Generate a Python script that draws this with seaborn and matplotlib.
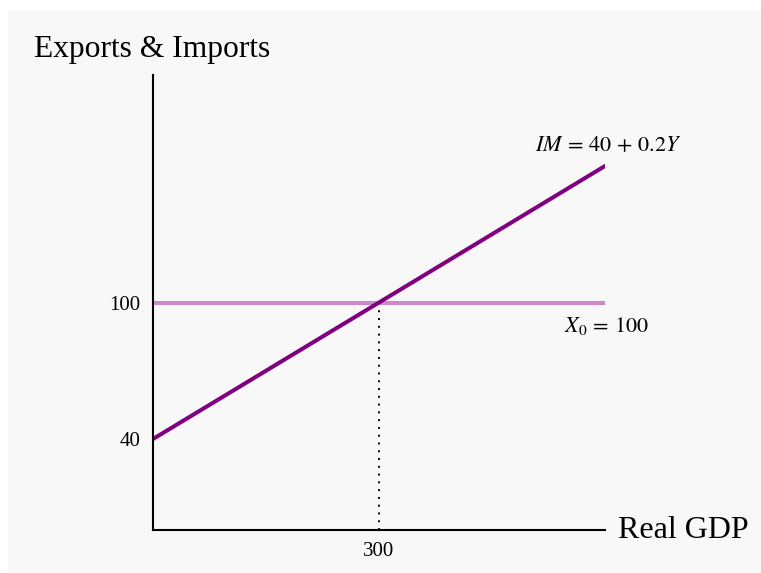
import matplotlib
matplotlib.use("Agg")
import matplotlib.pyplot as plt
import seaborn as sns
import pandas as pd
from matplotlib.patches import Rectangle

sns.set_style("white")
plt.rcParams['font.family'] = ['Liberation Serif', 'DejaVu Serif']
plt.rcParams['mathtext.fontset'] = 'stix'
plt.rcParams['text.color'] = 'black'
plt.rcParams['xtick.color'] = 'black'
plt.rcParams['ytick.color'] = 'black'

# Data
gdp = [0, 600]
imports = [40, 160]          # IM = 40 + 0.2Y
exports = [100, 100]         # X0 = 100
eq_x = 300
eq_y = 100
yticks = [40, 100]
xticks = [300]

W, H = 761, 573
fig = plt.figure(figsize=(W / 100, H / 100), dpi=100, facecolor='white')
fig.patches.append(Rectangle((8 / W, 0), 1, 1 - 11 / H, transform=fig.transFigure,
                             facecolor='#f8f8f8', edgecolor='none', zorder=-10))
ax = fig.add_axes([153 / W, 43 / H, 452 / W, 455 / H])
ax.set_facecolor('none')

df_x = pd.DataFrame({'gdp': gdp, 'val': exports})
df_im = pd.DataFrame({'gdp': gdp, 'val': imports})
sns.lineplot(data=df_x, x='gdp', y='val', ax=ax, color='#cc88cc', linewidth=2.9)
sns.lineplot(data=df_im, x='gdp', y='val', ax=ax, color='#800080', linewidth=2.9)
ax.plot([eq_x, eq_x], [0, eq_y], color='black', linestyle=(0, (1, 3)), linewidth=1.4, zorder=1)

ax.set_xlim(0, 600)
ax.set_ylim(0, 200)
ax.set_xticks(xticks)
ax.set_yticks(yticks)
ax.set_xticklabels([str(v) for v in xticks], fontsize=15)
ax.set_yticklabels([str(v) for v in yticks], fontsize=15)
ax.tick_params(axis='y', length=0, pad=9)
ax.tick_params(axis='x', length=0, pad=9)
ax.set_xlabel('')
ax.set_ylabel('')
for s in ['top', 'right']:
    ax.spines[s].set_visible(False)
for s in ['left', 'bottom']:
    ax.spines[s].set_color('black')
    ax.spines[s].set_linewidth(1.5)

fig.text(34 / W, 1 - 50 / H, 'Exports & Imports', fontsize=22.7, va='center', ha='left')
fig.text(618 / W, 1 - 530 / H, 'Real GDP', fontsize=23, va='center', ha='left')
fig.text(608 / W, 1 - 146 / H, r'$IM\,=\,40\,+\,0.2Y$', fontsize=16, ha='center', va='center')
fig.text(606 / W, 1 - 326 / H, r'$X_0\,=\,100$', fontsize=16, ha='center', va='center')

fig.savefig('out.png', dpi=100, facecolor=fig.get_facecolor())
